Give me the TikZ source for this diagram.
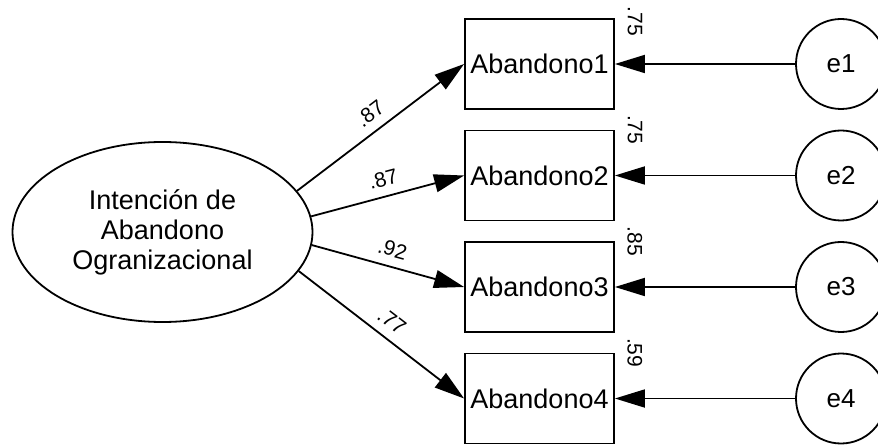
\documentclass[tikz,border=0pt]{standalone}
\usepackage{fontspec}
\setmainfont{Liberation Sans}
\usetikzlibrary{arrows.meta,shapes.geometric}
\begin{document}
\begin{tikzpicture}[x=1pt,y=-1pt,
  every node/.style={font=\fontsize{27}{30}\selectfont},
  obs/.style={draw, line width=1.8pt, minimum width=149pt, minimum height=90pt, inner sep=0pt},
  err/.style={draw, circle, line width=1.8pt, minimum size=90pt, inner sep=0pt, font=\fontsize{26}{30}\selectfont},
  lat/.style={draw, ellipse, line width=1.8pt, minimum width=300pt, minimum height=180pt, inner sep=0pt, align=center},
  arr/.style={line width=1.8pt, -{Triangle[length=30pt,width=18pt]}},
  coef/.style={sloped, above=9pt, inner sep=0pt, pos=0.5, font=\fontsize{21}{21}\selectfont},
  var/.style={rotate=-90, inner sep=0pt, font=\fontsize{21}{21}\selectfont}
]
\useasboundingbox (0,0) rectangle (878,446);
\node[lat] (F) at (162.5,232) {Intención de\\Abandono\\Ogranizacional};
\node[obs] (b1) at (539.5,64) {Abandono1};
\node[obs] (b2) at (539.5,175.5) {Abandono2};
\node[obs] (b3) at (539.5,287) {Abandono3};
\node[obs] (b4) at (539.5,398.5) {Abandono4};
\node[err] (e1) at (841,64) {e1};
\node[err] (e2) at (841,175.5) {e2};
\node[err] (e3) at (841,287) {e3};
\node[err] (e4) at (841,398.5) {e4};
\node[var] (v1) at ([xshift=20pt,yshift=-3pt]b1.north east) {.75};
\node[var] (v2) at ([xshift=20pt]b2.north east) {.75};
\node[var] (v3) at ([xshift=20pt]b3.north east) {.85};
\node[var] (v4) at ([xshift=20pt]b4.north east) {.59};
\draw[arr] (F.17) -- node[coef]{.87} (b1.west);
\draw[arr] (F.6.9) -- node[coef]{.87} (b2.west);
\draw[arr] (F.-5.8) -- node[coef]{.92} (b3.west);
\draw[arr] (F.-16.4) -- node[coef]{.77} (b4.west);
\draw[arr] (e1) -- (b1.east);
\draw[arr] (e2) -- (b2.east);
\draw[arr] (e3) -- (b3.east);
\draw[arr] (e4) -- (b4.east);
\end{tikzpicture}
\end{document}
